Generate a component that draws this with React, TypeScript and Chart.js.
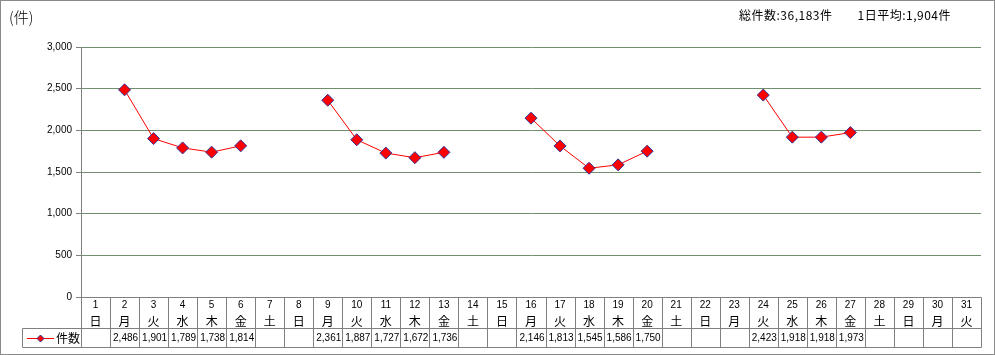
import React, { useEffect, useRef } from "react";
import { Chart, registerables } from "chart.js";

Chart.register(...registerables);

const days = ["1","2","3","4","5","6","7","8","9","10","11","12","13","14","15","16","17","18","19","20","21","22","23","24","25","26","27","28","29","30","31"];
const weekdays = ["日","月","火","水","木","金","土","日","月","火","水","木","金","土","日","月","火","水","木","金","土","日","月","火","水","木","金","土","日","月","火"];
const counts: (number | null)[] = [null,2486,1901,1789,1738,1814,null,null,2361,1887,1727,1672,1736,null,null,2146,1813,1545,1586,1750,null,null,null,2423,1918,1918,1973,null,null,null,null];
const seriesName = "件数";
const unitLabel = "(件)";
const summaryText = "総件数:36,183件　　1日平均:1,904件";
const yTicks = [0, 500, 1000, 1500, 2000, 2500, 3000];

const W = 995;
const H = 355;
const numFont = "10px 'Liberation Sans', Arial, sans-serif";
const jpFont = "12px 'Noto Sans CJK JP', sans-serif";
const lineGray = "#808080";

const fmt = (v: number) => v.toLocaleString("en-US");

const tablePlugin = {
  id: "dataTable",
  afterDraw(chart: any) {
    const ctx = chart.ctx as CanvasRenderingContext2D;
    const x = chart.scales.x;
    const area = chart.chartArea;
    const top = Math.round(area.bottom) + 0.5;
    const row2 = top + 31;
    const bottom = top + 50;
    const colW = x.getPixelForValue(1) - x.getPixelForValue(0);
    const left = Math.round(x.getPixelForValue(0) - colW / 2) + 0.5;
    const right = Math.round(x.getPixelForValue(days.length - 1) + colW / 2) + 0.5;
    const legendLeft = 22.5;
    ctx.save();
    ctx.strokeStyle = lineGray;
    ctx.lineWidth = 1;
    ctx.beginPath();
    ctx.moveTo(left, top); ctx.lineTo(right, top);
    ctx.moveTo(legendLeft, row2); ctx.lineTo(right, row2);
    ctx.moveTo(legendLeft, bottom); ctx.lineTo(right, bottom);
    ctx.moveTo(legendLeft, row2); ctx.lineTo(legendLeft, bottom);
    for (let i = 0; i <= days.length; i++) {
      const bx = Math.round(x.getPixelForValue(0) - colW / 2 + i * colW) + 0.5;
      ctx.moveTo(bx, top); ctx.lineTo(bx, bottom);
    }
    ctx.stroke();

    ctx.fillStyle = "#000";
    ctx.textAlign = "center";
    ctx.textBaseline = "middle";
    for (let i = 0; i < days.length; i++) {
      const cx = x.getPixelForValue(i);
      ctx.font = numFont;
      ctx.fillText(days[i], cx, top + 8);
      ctx.font = jpFont;
      ctx.fillText(weekdays[i], cx, top + 24);
      const v = counts[i];
      if (v !== null) {
        ctx.font = numFont;
        ctx.fillText(fmt(v), cx + 1, row2 + 10);
      }
    }
    const ly = row2 + 10;
    ctx.strokeStyle = "#ff0000";
    ctx.beginPath();
    ctx.moveTo(27, ly); ctx.lineTo(54, ly);
    ctx.stroke();
    ctx.fillStyle = "#ff0000";
    ctx.strokeStyle = "#333399";
    ctx.beginPath();
    ctx.moveTo(40.5, ly - 3.5); ctx.lineTo(44, ly); ctx.lineTo(40.5, ly + 3.5); ctx.lineTo(37, ly); ctx.closePath();
    ctx.fill(); ctx.stroke();
    ctx.fillStyle = "#000";
    ctx.font = jpFont;
    ctx.textAlign = "left";
    ctx.fillText(seriesName, 56, ly);

    ctx.strokeStyle = "#8a8a8a";
    ctx.strokeRect(0.5, 0.5, W - 1, H - 1);
    ctx.restore();
  },
};

export default function App() {
  const ref = useRef<HTMLCanvasElement>(null);
  useEffect(() => {
    if (!ref.current) return;
    const chart = new Chart(ref.current, {
      type: "line",
      data: {
        labels: days,
        datasets: [
          {
            label: seriesName,
            data: counts,
            borderColor: "#ff0000",
            borderWidth: 1,
            backgroundColor: "#ff0000",
            pointStyle: "rectRot",
            pointRadius: 6,
            pointBackgroundColor: "#ff0000",
            pointBorderColor: "#333399",
            pointBorderWidth: 1,
            tension: 0,
            spanGaps: false,
          },
        ],
      },
      options: {
        animation: false,
        responsive: false,
        devicePixelRatio: 1,
        layout: { padding: { left: 0, right: 14, top: 47, bottom: 58 } },
        plugins: { legend: { display: false }, tooltip: { enabled: false } },
        scales: {
          x: { display: false, offset: true },
          y: {
            min: 0,
            max: 3000,
            afterFit: (s: any) => { s.width = 81; },
            afterBuildTicks: (s: any) => { s.ticks = yTicks.map((v) => ({ value: v })); },
            ticks: {
              color: "#000",
              font: { family: "'Liberation Sans', Arial, sans-serif", size: 10 },
              padding: 4,
              callback: (v: any) => fmt(Number(v)),
            },
            grid: { color: "#6f8f6f", tickColor: lineGray, tickLength: 5, drawTicks: true },
            border: { color: lineGray },
          },
        },
      },
      plugins: [tablePlugin],
    });
    return () => chart.destroy();
  }, []);
  return (
    <div style={{ position: "absolute", left: 0, top: 0, width: W, height: H, background: "#fff" }}>
      <canvas ref={ref} width={W} height={H} style={{ position: "absolute", left: 0, top: 0 }} />
      <div style={{ position: "absolute", left: 9, top: 7, font: "300 15px 'Noto Sans CJK JP', sans-serif", lineHeight: "20px" }}>{unitLabel}</div>
      <div style={{ position: "absolute", left: 739, top: 7, font: "12px 'Noto Sans CJK JP', sans-serif", lineHeight: "16px", letterSpacing: "0.5px", whiteSpace: "pre" }}>{summaryText}</div>
    </div>
  );
}
